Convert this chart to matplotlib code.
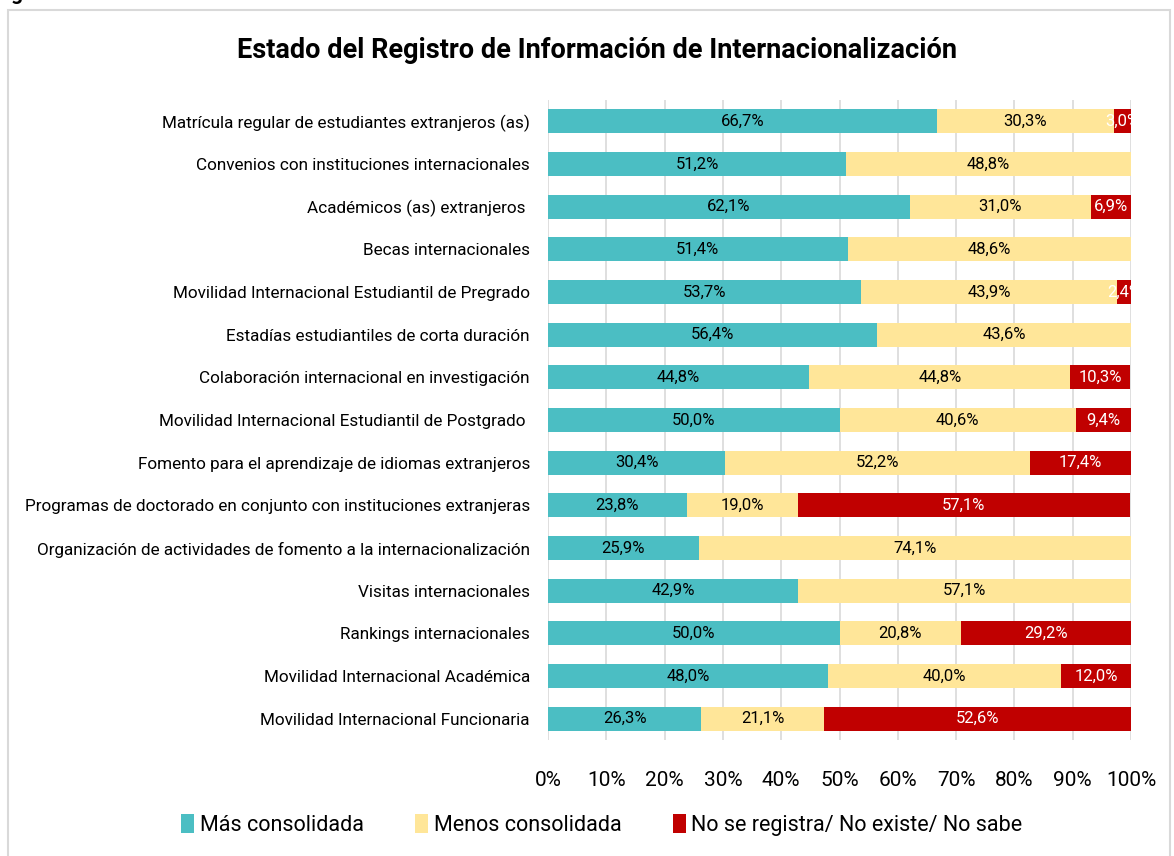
import numpy as np
import matplotlib
matplotlib.use("Agg")
from matplotlib import pyplot as plt
from matplotlib.patches import Rectangle, Patch

plt.rcParams['font.family'] = ['Roboto', 'DejaVu Sans']

categories = [
    "Matrícula regular de estudiantes extranjeros (as)",
    "Convenios con instituciones internacionales",
    "Académicos (as) extranjeros ",
    "Becas internacionales",
    "Movilidad Internacional Estudiantil de Pregrado",
    "Estadías estudiantiles de corta duración",
    "Colaboración internacional en investigación",
    "Movilidad Internacional Estudiantil de Postgrado ",
    "Fomento para el aprendizaje de idiomas extranjeros",
    "Programas de doctorado en conjunto con instituciones extranjeras",
    "Organización de actividades de fomento a la internacionalización",
    "Visitas internacionales",
    "Rankings internacionales",
    "Movilidad Internacional Académica",
    "Movilidad Internacional Funcionaria",
]
mas = [66.7, 51.2, 62.1, 51.4, 53.7, 56.4, 44.8, 50.0, 30.4, 23.8, 25.9, 42.9, 50.0, 48.0, 26.3]
menos = [30.3, 48.8, 31.0, 48.6, 43.9, 43.6, 44.8, 40.6, 52.2, 19.0, 74.1, 57.1, 20.8, 40.0, 21.1]
no_reg = [3.0, 0, 6.9, 0, 2.4, 0, 10.3, 9.4, 17.4, 57.1, 0, 0, 29.2, 12.0, 52.6]
series_names = ["Más consolidada", "Menos consolidada", "No se registra/ No existe/ No sabe"]
colors = ["#4BBEC3", "#FFE699", "#C00000"]
text_colors = ["black", "black", "white"]

fig = plt.figure(figsize=(11.74, 8.56), dpi=100)
# outer frame of the chart
fig.patches.append(Rectangle((8/1174, -0.01), 1162/1174, 1 - 10/856 + 0.01,
                             transform=fig.transFigure, fill=False,
                             edgecolor="#D9D9D9", linewidth=1.5))
# caption above the frame, cut by the top edge as in the source
fig.text(-0.005, 1.0 + 6/856, "Figura 3", fontsize=15, fontweight="bold", va="center", ha="left")

ax = fig.add_axes([548/1174, 1 - 740/856, 583/1174, 640/856])

y = np.arange(len(categories))
left = np.zeros(len(categories))
for vals, name, c, tc in zip([mas, menos, no_reg], series_names, colors, text_colors):
    vals = np.array(vals)
    ax.barh(y, vals / 100, left=left, height=0.57, color=c, label=name)
    for yi, (l, v) in enumerate(zip(left, vals)):
        if v > 0:
            txt = f"{v:.1f}%".replace(".", ",")
            ax.text(l + v / 200, yi, txt, ha="center", va="center",
                    fontsize=12, color=tc, clip_on=True)
    left = left + vals / 100

ax.set_xlim(0, 1)
ax.set_ylim(len(categories) - 0.5, -0.5)
ax.set_yticks(y)
ax.set_yticklabels(categories, fontsize=12.3)
ax.set_xticks(np.arange(0, 1.01, 0.1))
ax.set_xticklabels([f"{int(t)}%" for t in np.arange(0, 101, 10)], fontsize=15)
ax.tick_params(axis="both", length=0)
ax.tick_params(axis="x", pad=22)
ax.tick_params(axis="y", pad=13)
ax.grid(axis="x", color="#D9D9D9", linewidth=1.2)
ax.set_axisbelow(True)
for s in ax.spines.values():
    s.set_visible(False)

fig.text(597/1174, 1 - 50/856, "Estado del Registro de Información de Internacionalización",
         fontsize=19.5, fontweight="bold", ha="center", va="center")

handles = [Patch(facecolor=c, label=n) for c, n in zip(colors, series_names)]
fig.legend(handles=handles, loc="center", bbox_to_anchor=(602/1174, 1 - 825/856),
           ncol=3, frameon=False, fontsize=15.5, handlelength=0.6, handleheight=1.0,
           handletextpad=0.25, columnspacing=2.4)

fig.savefig("out.png", dpi=100)
